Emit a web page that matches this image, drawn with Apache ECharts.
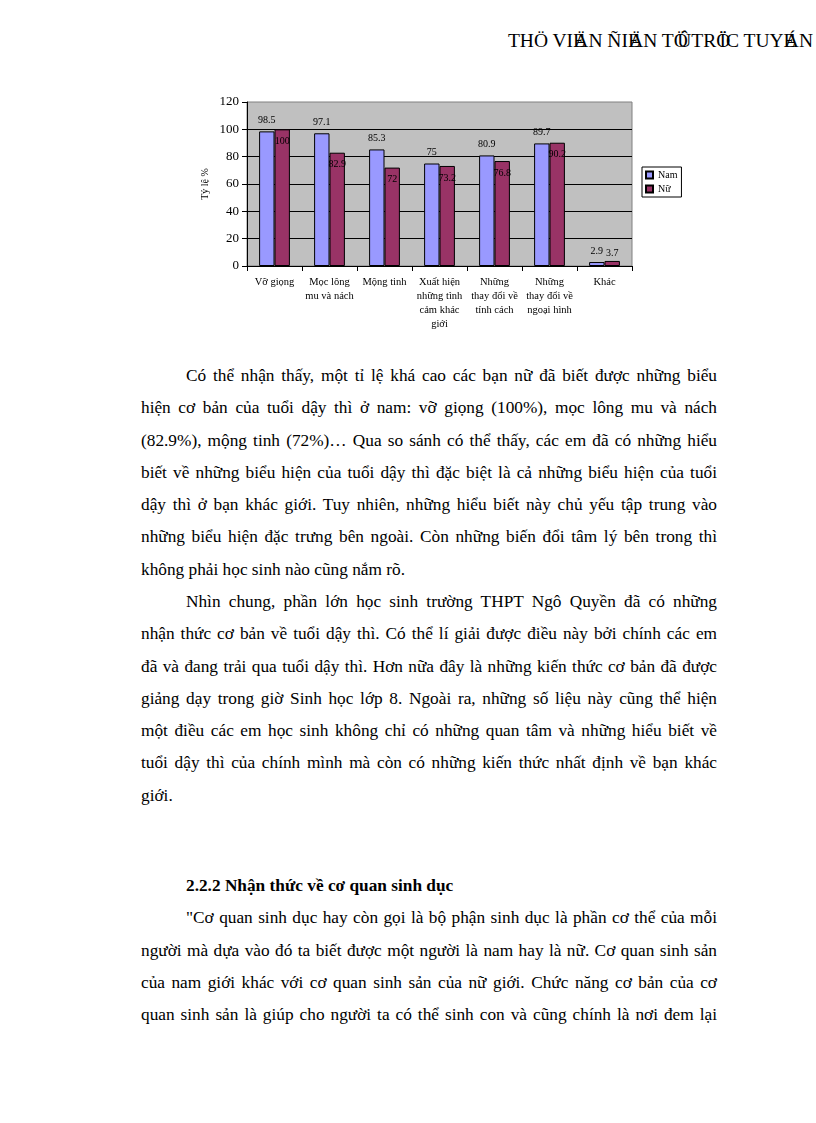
<!DOCTYPE html>
<html>
<head>
<meta charset="utf-8">
<script src="https://cdn.jsdelivr.net/npm/echarts@6/dist/echarts.min.js"></script>
<style>
  html, body { margin: 0; padding: 0; background: #fff; }
  #page { position: relative; width: 816px; height: 1123px; overflow: hidden; font-family: "Liberation Serif", "DejaVu Serif", serif; color: #000; }
  #chart { position: absolute; left: 0; top: 0; width: 816px; height: 345px; }
  #header { position: absolute; right: 3px; top: 30px; font-size: 19.5px; white-space: nowrap; }
  #header .o { margin-left: -0.55em; }
  .block { position: absolute; left: 141px; width: 576px; font-size: 17.3px; line-height: 32.3px; }
  .block div { white-space: nowrap; height: 32.3px; }
  .block .j { text-align: justify; text-align-last: justify; white-space: normal; }
  .block .i { padding-left: 45px; }
  .block b { font-weight: bold; }
</style>
</head>
<body>
<div id="page">
  <div id="header">THÖ VIE<span class="o">Ä</span>N ÑIE<span class="o">Ä</span>N TÖ<span class="o">Û</span>TRÖ<span class="o">Ï</span>C TUYE<span class="o">Á</span>N</div>
  <div id="chart"></div>

  <div class="block" style="top:360px">
    <div class="j i">Có thể nhận thấy, một tỉ lệ khá cao các bạn nữ đã biết được những biểu</div>
    <div class="j">hiện cơ bản của tuổi dậy thì ở nam: vỡ giọng (100%), mọc lông mu và nách</div>
    <div class="j">(82.9%), mộng tinh (72%)… Qua so sánh có thể thấy, các em đã có những hiểu</div>
    <div class="j">biết về những biểu hiện của tuổi dậy thì đặc biệt là cả những biểu hiện của tuổi</div>
    <div class="j">dậy thì ở bạn khác giới. Tuy nhiên, những hiểu biết này chủ yếu tập trung vào</div>
    <div class="j">những biểu hiện đặc trưng bên ngoài. Còn những biến đổi tâm lý bên trong thì</div>
    <div>không phải học sinh nào cũng nắm rõ.</div>
  </div>

  <div class="block" style="top:586px">
    <div class="j i">Nhìn chung, phần lớn học sinh trường THPT Ngô Quyền đã có những</div>
    <div class="j">nhận thức cơ bản về tuổi dậy thì. Có thể lí giải được điều này bởi chính các em</div>
    <div class="j">đã và đang trải qua tuổi dậy thì. Hơn nữa đây là những kiến thức cơ bản đã được</div>
    <div class="j">giảng dạy trong giờ Sinh học lớp 8. Ngoài ra, những số liệu này cũng thể hiện</div>
    <div class="j">một điều các em học sinh không chỉ có những quan tâm và những hiểu biết về</div>
    <div class="j">tuổi dậy thì của chính mình mà còn có những kiến thức nhất định về bạn khác</div>
    <div>giới.</div>
  </div>

  <div class="block" style="top:870px">
    <div class="i"><b>2.2.2 Nhận thức về cơ quan sinh dục</b></div>
    <div class="j i">"Cơ quan sinh dục hay còn gọi là bộ phận sinh dục là phần cơ thể của mỗi</div>
    <div class="j">người mà dựa vào đó ta biết được một người là nam hay là nữ. Cơ quan sinh sản</div>
    <div class="j">của nam giới khác với cơ quan sinh sản của nữ giới. Chức năng cơ bản của cơ</div>
    <div class="j">quan sinh sản là giúp cho người ta có thể sinh con và cũng chính là nơi đem lại</div>
  </div>
</div>

<script>
// danh mục biểu hiện tuổi dậy thì
const categories = ['Vỡ giọng', 'Mọc lông\nmu và nách', 'Mộng tinh', 'Xuất hiện\nnhững tình\ncảm khác\ngiới', 'Những\nthay đổi về\ntính cách', 'Những\nthay đổi về\nngoại hình', 'Khác'];
const seriesNames = ['Nam', 'Nữ'];
// tỷ lệ % học sinh nam / nữ
const namValues = [98.5, 97.1, 85.3, 75, 80.9, 89.7, 2.9];
const nuValues = [100, 82.9, 72, 73.2, 76.8, 90.2, 3.7];
// vạch chia trục tung
const yTicks = [0, 20, 40, 60, 80, 100, 120];

const FONT = 'Liberation Serif';

const chart = echarts.init(document.getElementById('chart'));

chart.setOption({
    animation: false,
    textStyle: { fontFamily: FONT, color: '#000' },
    grid: {
        left: 247, top: 102, width: 385, height: 164,
        show: true,
        backgroundColor: '#c0c0c0',
        borderColor: '#808080',
        borderWidth: 1
    },
    legend: {
        orient: 'vertical',
        left: 642, top: 167,
        data: seriesNames,
        icon: 'rect',
        itemWidth: 7, itemHeight: 7, itemGap: 4,
        padding: [3, 4, 3, 3],
        borderColor: '#000', borderWidth: 1,
        textStyle: { fontFamily: FONT, fontSize: 10, color: '#000' }
    },
    xAxis: {
        type: 'category',
        data: categories,
        axisLine: { lineStyle: { color: '#000', width: 1 } },
        axisTick: { show: true, length: 5, lineStyle: { color: '#000' } },
        axisLabel: { interval: 0, fontFamily: FONT, fontSize: 10.5, lineHeight: 14, color: '#000', margin: 9 }
    },
    yAxis: {
        type: 'value',
        min: yTicks[0],
        max: yTicks[yTicks.length - 1],
        interval: yTicks[1] - yTicks[0],
        name: 'Tỷ lệ %',
        nameLocation: 'middle',
        nameRotate: 90,
        nameGap: 37,
        nameTextStyle: { fontFamily: FONT, fontSize: 10, color: '#000' },
        axisLine: { show: true, lineStyle: { color: '#000', width: 1 } },
        axisTick: { show: true, length: 5, lineStyle: { color: '#000' } },
        axisLabel: { fontFamily: FONT, fontSize: 13, color: '#000', margin: 8 },
        splitLine: { show: true, showMinLine: false, showMaxLine: false, lineStyle: { color: '#000', width: 1 } }
    },
    series: [
        {
            name: seriesNames[0],
            type: 'bar',
            data: namValues,
            barWidth: '28%',
            barGap: '0%',
            itemStyle: { color: '#9999ff', borderColor: '#000', borderWidth: 1 },
            label: { show: true, position: 'top', distance: 6, fontFamily: FONT, fontSize: 10, color: '#000' }
        },
        {
            name: seriesNames[1],
            type: 'bar',
            data: nuValues.map(v => ({
                value: v,
                label: { position: v < 10 ? 'top' : 'insideTop', distance: v < 10 ? 3 : 7 }
            })),
            barWidth: '28%',
            barGap: '0%',
            itemStyle: { color: '#993366', borderColor: '#000', borderWidth: 1 },
            label: { show: true, fontFamily: FONT, fontSize: 10, color: '#000' }
        }
    ]
});
</script>
</body>
</html>
